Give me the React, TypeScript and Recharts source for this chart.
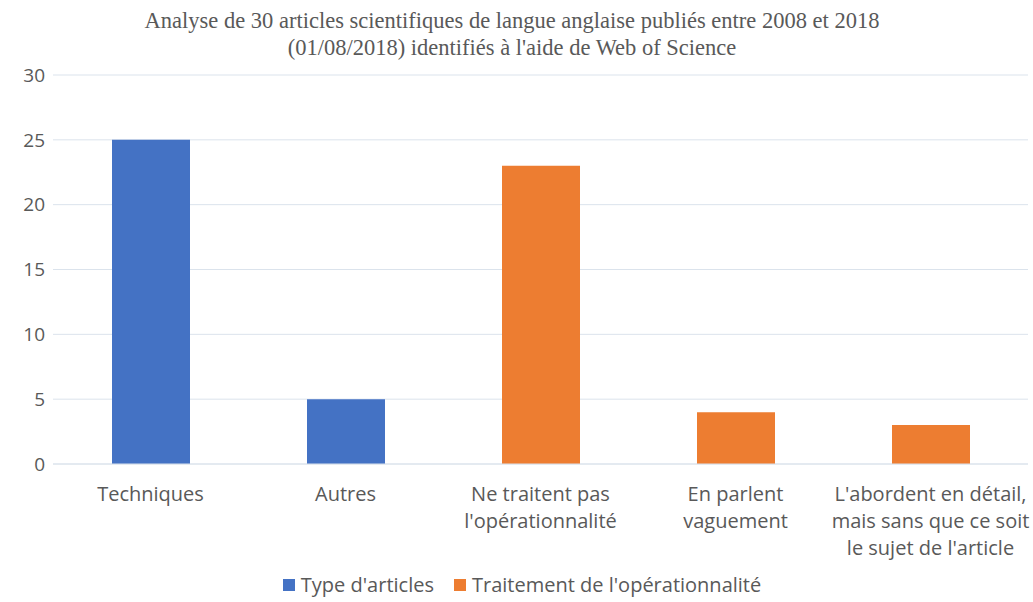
import React from "react";
import { BarChart, Bar, XAxis, YAxis, CartesianGrid, Legend } from "recharts";

// Categories (line breaks are kept as "\n" and split in the tick)
const categories = [
  "Techniques",
  "Autres",
  "Ne traitent pas\nl'opérationnalité",
  "En parlent\nvaguement",
  "L'abordent en détail,\nmais sans que ce soit\nle sujet de l'article",
];

// Series values, null where the category does not belong to the series
const typeArticles = [25, 5, null, null, null];
const traitement = [null, null, 23, 4, 3];

const yTicks = [0, 5, 10, 15, 20, 25, 30];

const BLUE = "#4472C4";
const ORANGE = "#ED7D31";
const TEXT = "#595959";
const FONT = "'Open Sans', sans-serif";

const data = categories.map((name, i) => ({
  name,
  type: typeArticles[i],
  traitement: traitement[i],
}));

const CategoryTick = (props: any) => {
  const { x, y, payload } = props;
  const lines = String(payload.value).split("\n");
  return (
    <text
      x={x}
      y={y}
      textAnchor="middle"
      fill={TEXT}
      fontSize={20}
      fontFamily={FONT}
    >
      {lines.map((line, i) => (
        <tspan key={i} x={x} dy={i === 0 ? 29 : 27}>
          {line}
        </tspan>
      ))}
    </text>
  );
};

const LegendContent = () => (
  <div
    style={{
      display: "flex",
      justifyContent: "center",
      gap: 20,
      fontFamily: FONT,
      fontSize: 20,
      color: TEXT,
      paddingLeft: 16,
      paddingTop: 7,
    }}
  >
    {[
      { label: "Type d'articles", color: BLUE },
      { label: "Traitement de l'opérationnalité", color: ORANGE },
    ].map((item) => (
      <span key={item.label} style={{ display: "flex", alignItems: "center" }}>
        <span
          style={{
            display: "inline-block",
            width: 12,
            height: 12,
            background: item.color,
            marginRight: 6,
          }}
        />
        {item.label}
      </span>
    ))}
  </div>
);

export default function App() {
  return (
    <div
      style={{
        position: "absolute",
        left: 0,
        top: 0,
        width: 1033,
        height: 602,
        background: "#fff",
      }}
    >
      <div
        style={{
          position: "absolute",
          top: 7,
          left: 0,
          width: 1024,
          textAlign: "center",
          fontFamily: "'Liberation Serif', 'Times New Roman', serif",
          fontSize: 22.5,
          lineHeight: "27px",
          color: TEXT,
        }}
      >
        Analyse de 30 articles scientifiques de langue anglaise publiés entre 2008 et 2018
        <br />
        (01/08/2018) identifiés à l'aide de Web of Science
      </div>
      <BarChart
        width={1033}
        height={602}
        data={data}
        margin={{ top: 75, right: 5, left: 0, bottom: 0 }}
      >
        <CartesianGrid vertical={false} stroke="#dbe3ec" />
        <XAxis
          dataKey="name"
          tick={<CategoryTick />}
          tickLine={false}
          axisLine={{ stroke: "#dbe3ec" }}
          interval={0}
          height={100}
        />
        <YAxis
          domain={[0, 30]}
          ticks={yTicks}
          tickLine={false}
          axisLine={false}
          width={53}
          tick={{ fill: TEXT, fontSize: 19, fontFamily: FONT }}
        />
        <Legend
          verticalAlign="bottom"
          height={38}
          content={<LegendContent />}
        />
        <Bar
          dataKey="type"
          stackId="a"
          fill={BLUE}
          barSize={78}
          isAnimationActive={false}
        />
        <Bar
          dataKey="traitement"
          stackId="a"
          fill={ORANGE}
          barSize={78}
          isAnimationActive={false}
        />
      </BarChart>
    </div>
  );
}
